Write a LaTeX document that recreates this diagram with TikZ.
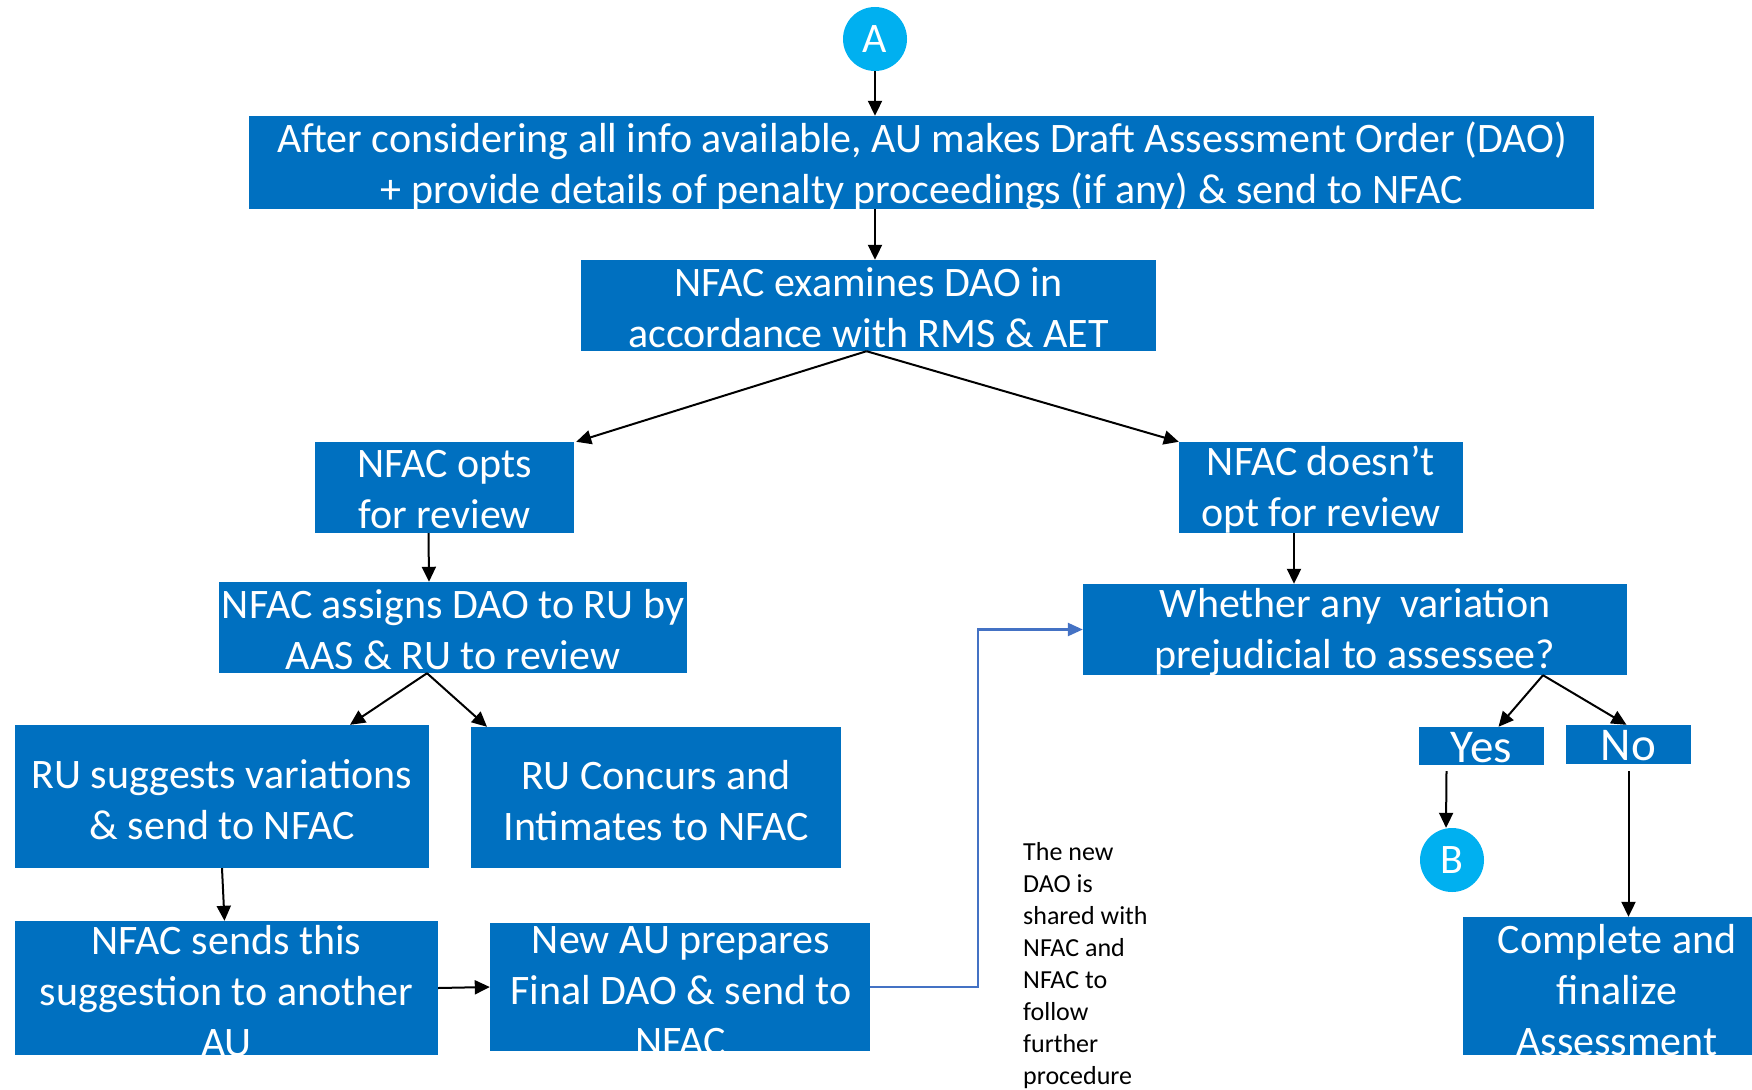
\documentclass[tikz,border=0pt]{standalone}
\usepackage{fontspec}
\setmainfont{Carlito}
\usetikzlibrary{arrows.meta}
\definecolor{boxblue}{HTML}{0070C0}
\definecolor{dotblue}{HTML}{00B0F0}
\definecolor{linkblue}{HTML}{4472C4}
\tikzset{
  box/.style={fill=boxblue, inner sep=0pt},
  boxtext/.style={text=white, align=center, inner sep=0pt,
    font=\fontsize{42}{51}\selectfont},
  bigtext/.style={boxtext, font=\fontsize{47}{51}\selectfont},
  conn/.style={circle, fill=dotblue, minimum size=64pt, inner sep=0pt,
    text=white, font=\fontsize{42}{51}\selectfont},
  arr/.style={-{Triangle[length=15pt,width=14pt]}, line width=2pt, black},
  barr/.style={-{Triangle[length=15pt,width=13pt]}, line width=2.4pt, linkblue},
  note/.style={align=left, inner sep=0pt, anchor=north west,
    font=\fontsize{26}{32}\selectfont, text=black}
}
\begin{document}
\begin{tikzpicture}[x=1pt,y=-1pt]
\useasboundingbox (0,0) rectangle (1752,1089);

% connectors A and B
\node[conn] (A) at (875,39) {A};
\node[conn] (B) at (1452,860) {B};

% process boxes
\node[box, minimum width=1345pt, minimum height=93pt] (b1) at (921.5,162.5) {};
\node[boxtext] (b1t) at (922,166) {After considering all info available, AU makes Draft Assessment Order (DAO)\\+ provide details of penalty proceedings (if any) \& send to NFAC};

\node[box, minimum width=575pt, minimum height=91pt] (b2) at (868.5,305.5) {};
\node[boxtext] (b2t) at (868.5,308) {NFAC examines DAO in\\accordance with RMS \& AET};

\node[box, minimum width=259pt, minimum height=91pt] (b3) at (444.5,487.5) {};
\node[boxtext] (b3t) at (444.5,490) {NFAC opts\\for review};

\node[box, minimum width=284pt, minimum height=91pt] (b4) at (1321,487.5) {};
\node[boxtext] (b4t) at (1321,490) {NFAC doesn’t\\opt for review};

\node[box, minimum width=468pt, minimum height=91pt] (b5) at (453,627.5) {};
\node[boxtext] (b5t) at (453,630) {NFAC assigns DAO to RU by\\AAS \& RU to review};

\node[box, minimum width=544pt, minimum height=91pt] (b6) at (1355,629.5) {};
\node[boxtext] (b6t) at (1355,632) {Whether any\ \ variation\\prejudicial to assessee?};

\node[box, minimum width=414pt, minimum height=143pt] (b7) at (222,796.5) {};
\node[boxtext] (b7t) at (222,800) {RU suggests variations\\\& send to NFAC};

\node[box, minimum width=370pt, minimum height=141pt] (b8) at (656,797.5) {};
\node[boxtext] (b8t) at (656,801) {RU Concurs and\\Intimates to NFAC};

\node[box, minimum width=125pt, minimum height=38pt] (yes) at (1481.5,746) {};
\node[bigtext] (yest) at (1481.5,748) {Yes};

\node[box, minimum width=125pt, minimum height=39pt] (no) at (1628.5,744.5) {};
\node[bigtext] (not) at (1628.5,746) {No};

\node[box, minimum width=423pt, minimum height=134pt] (b9) at (226.5,988) {};
\node[boxtext] (b9t) at (226.5,991) {NFAC sends this\\suggestion to another\\AU};

\node[box, minimum width=380pt, minimum height=128pt] (b10) at (680,987) {};
\node[boxtext] (b10t) at (681,991) {New AU prepares\\Final DAO \& send to\\NFAC};

\node[box, minimum width=289pt, minimum height=138pt] (b11) at (1607.5,986) {};
\node[boxtext] (b11t) at (1617,990) {Complete and\\finalize\\Assessment};

% side note
\node[note] (nt) at (1023,842) {The new\\DAO is\\shared with\\NFAC and\\NFAC to\\follow\\further\\procedure};

% arrows
\draw[arr] (A.south) -- (b1.north -| A.south);
\draw[arr] (b1.south -| A.south) -- (b2.north -| A.south);
\draw[arr] ([xshift=-2pt]b2.south) -- ([xshift=2pt]b3.north east);
\draw[arr] ([xshift=-2pt]b2.south) -- (b4.north west);
\draw[arr] ([xshift=-16pt]b3.south) -- ([xshift=-24pt]b5.north);
\draw[arr] ([xshift=-27pt]b4.south) -- ([xshift=-61pt]b6.north);
\draw[arr] ([xshift=-26pt]b5.south) -- ([xshift=128pt]b7.north);
\draw[arr] ([xshift=-26pt]b5.south) -- ([xshift=-169pt]b8.north);
\draw[arr] (b7.south) -- ([xshift=-2pt]b9.north);
\draw[arr] (b9.east) -- (b10.east -| b10.west);
\draw[barr] (b10.east) -- ++(108,0) |- (b6.west);
\draw[arr] ([xshift=188pt]b6.south) -- ([xshift=17pt]yes.north);
\draw[arr] ([xshift=188pt]b6.south) -- ([xshift=-2pt]no.north);
\draw[arr] ([xshift=-35pt,yshift=-6pt]yes.south) -- ([xshift=-6pt]B.north);
\draw[arr] ([yshift=-7pt]no.south) -- (b11.north -| no.south);
\end{tikzpicture}
\end{document}
